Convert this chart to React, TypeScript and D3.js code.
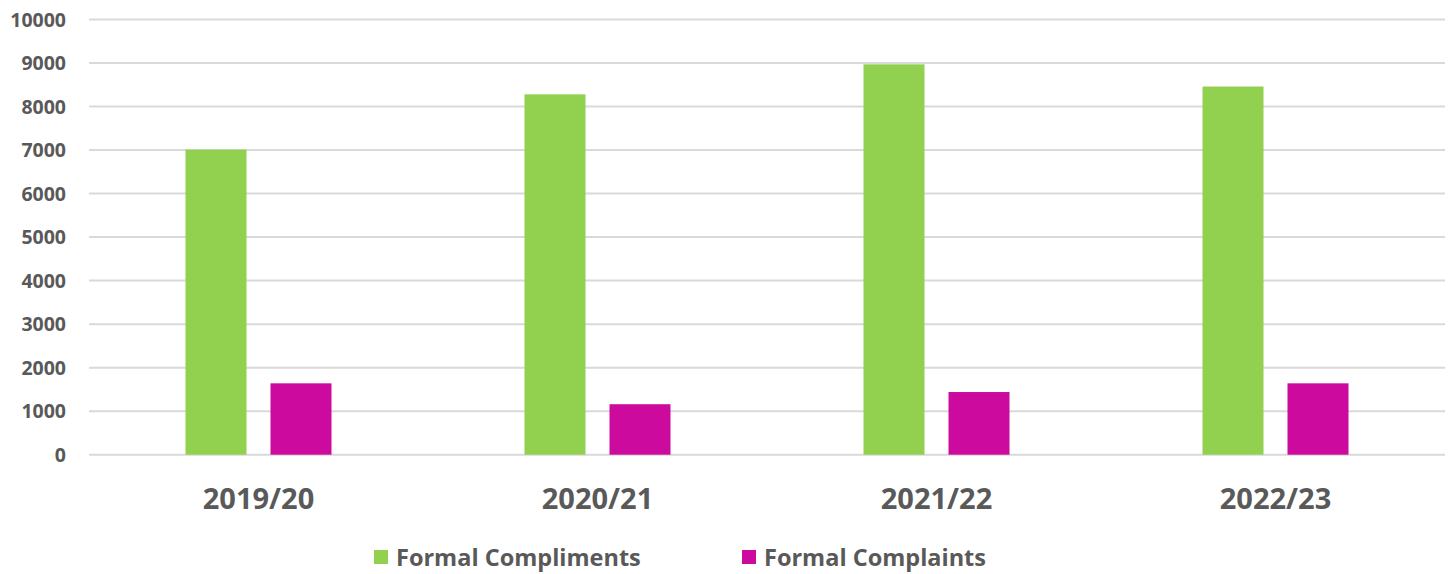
import React from "react";
import * as d3 from "d3";

const categories = ["2019/20", "2020/21", "2021/22", "2022/23"];
const seriesNames = ["Formal Compliments", "Formal Complaints"];
const compliments = [7010, 8280, 8970, 8460];
const complaints = [1640, 1160, 1440, 1640];
const yTicks = [0, 1000, 2000, 3000, 4000, 5000, 6000, 7000, 8000, 9000, 10000];
const colors = ["#92d050", "#cc0a9e"];

const W = 1453;
const H = 574;
const FONT = "'Open Sans', 'DejaVu Sans', sans-serif";
const TEXT = "#595959";

export default function App() {
  const left = 89;
  const right = 1445;
  const top = 19.5;
  const bottom = 454.7;

  const x = d3.scaleBand<string>().domain(categories).range([left, right]).padding(0);
  const y = d3.scaleLinear().domain([0, 10000]).range([bottom, top]);
  const barW = 61;
  const gap = 24;
  const series = [compliments, complaints];

  return (
    <svg
      width={W}
      height={H}
      style={{ position: "absolute", left: 0, top: 0, background: "#fff" }}
      fontFamily={FONT}
    >
      {yTicks.map((t) => (
        <g key={t}>
          <line x1={left} x2={right} y1={y(t)} y2={y(t)} stroke="#d9d9d9" strokeWidth={2} />
          <text
            x={66}
            y={y(t)}
            dy="0.36em"
            textAnchor="end"
            fontSize={19.5}
            fontWeight={700}
            fill={TEXT}
          >
            {t}
          </text>
        </g>
      ))}
      {categories.map((c, i) => {
        const cx = (x(c) as number) + x.bandwidth() / 2;
        return (
          <g key={c}>
            {series.map((s, k) => {
              const bx = k === 0 ? cx - gap / 2 - barW : cx + gap / 2;
              return (
                <rect
                  key={k}
                  x={bx}
                  y={y(s[i])}
                  width={barW}
                  height={y(0) - y(s[i])}
                  fill={colors[k]}
                />
              );
            })}
            <text
              x={cx}
              y={509}
              textAnchor="middle"
              fontSize={29}
              fontWeight={700}
              fill={TEXT}
            >
              {c}
            </text>
          </g>
        );
      })}
      {seriesNames.map((n, k) => {
        const lx = k === 0 ? 374 : 742;
        return (
          <g key={n}>
            <rect x={lx} y={550} width={14} height={14} fill={colors[k]} />
            <text x={lx + 22} y={566} fontSize={23.5} fontWeight={700} fill={TEXT}>
              {n}
            </text>
          </g>
        );
      })}
    </svg>
  );
}
